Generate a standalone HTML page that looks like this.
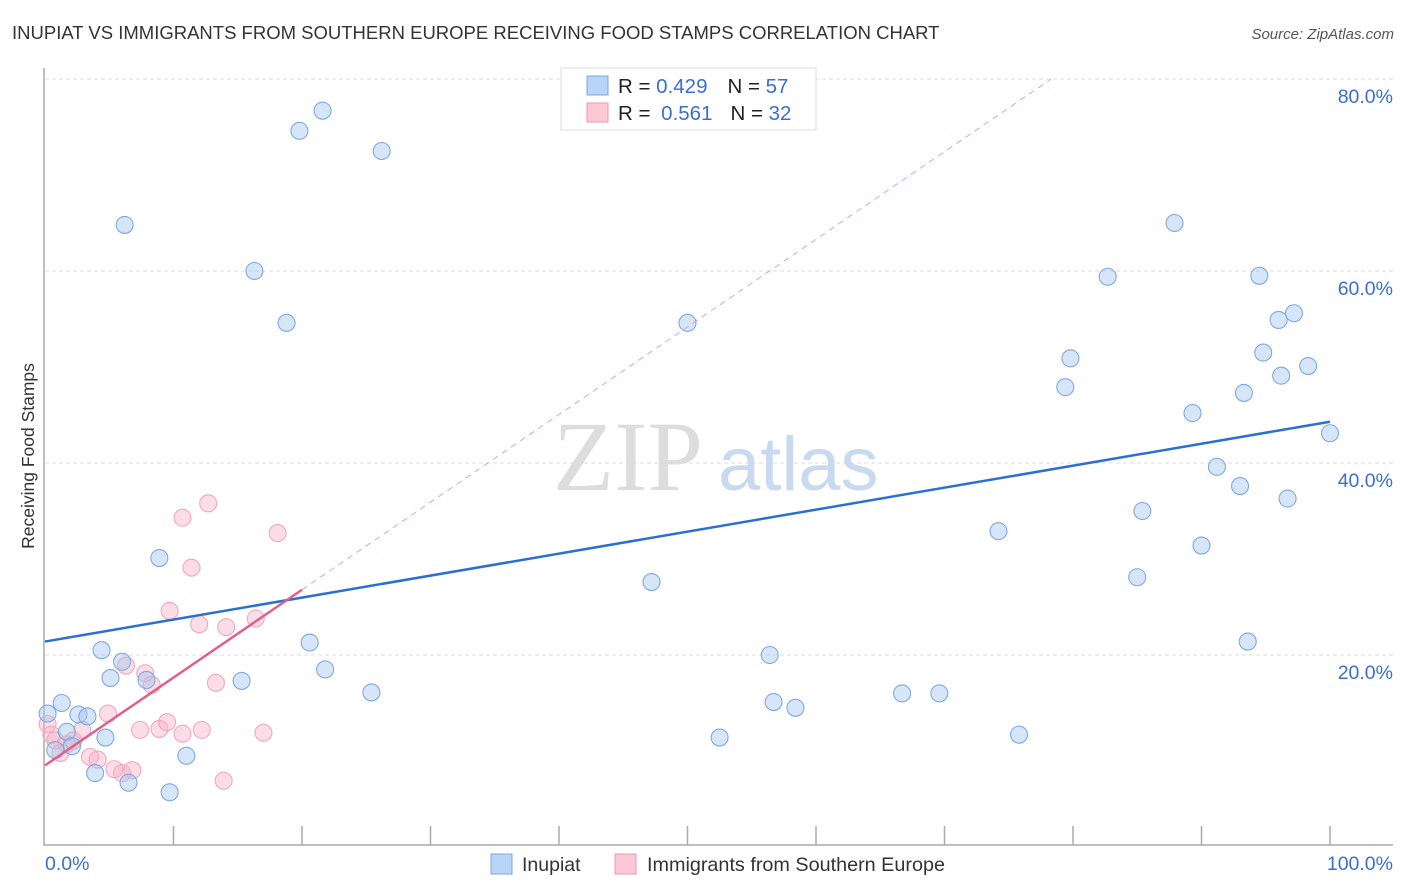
<!DOCTYPE html>
<html><head><meta charset="utf-8">
<style>
body{margin:0;background:#fff;font-family:"Liberation Sans",sans-serif;}
#wrap{position:relative;width:1406px;height:892px;overflow:hidden;}
</style></head>
<body>
<div id="wrap">
<svg id="svg" width="1406" height="892" xmlns="http://www.w3.org/2000/svg">
<text x="12" y="39" font-size="18.5" fill="#333">INUPIAT VS IMMIGRANTS FROM SOUTHERN EUROPE RECEIVING FOOD STAMPS CORRELATION CHART</text>
<text x="1394" y="39" font-size="15" fill="#555" font-style="italic" text-anchor="end">Source: ZipAtlas.com</text>
<text x="34" y="456" font-size="17.5" fill="#333" text-anchor="middle" transform="rotate(-90 34 456)">Receiving Food Stamps</text>
<g id="grid"></g>
<g id="axes"></g>
<text x="553" y="490" font-size="100" fill="#ddd" font-family="Liberation Serif,serif">ZIP</text>
<text x="718" y="490" font-size="76" fill="#c9daf0">atlas</text>
<g id="pts"></g>
<g id="trend"></g>
<g>
<rect x="561" y="68" width="255" height="62" fill="#fff" stroke="#ddd"/>
<rect x="587" y="76" width="21" height="19" fill="#b8d4f6" stroke="#7aa8e0"/>
<rect x="587" y="103" width="21" height="19" fill="#fcc8d6" stroke="#ee9ab3"/>
<text x="618" y="93" font-size="20.5" fill="#222">R = <tspan fill="#3a70cc">0.429</tspan><tspan dx="20">N = </tspan><tspan fill="#3a70cc">57</tspan></text>
<text x="618" y="120" font-size="20.5" fill="#222">R = <tspan fill="#3a70cc" dx="5">0.561</tspan><tspan dx="18">N = </tspan><tspan fill="#3a70cc">32</tspan></text>
</g>
<g>
<rect x="491" y="854" width="21" height="20" fill="#b8d4f6" stroke="#7aa8e0"/>
<text x="522" y="871" font-size="19.5" fill="#333">Inupiat</text>
<rect x="615" y="854" width="21" height="20" fill="#fcc8d6" stroke="#ee9ab3"/>
<text x="647" y="871" font-size="19.8" fill="#333">Immigrants from Southern Europe</text>
</g>
</svg>
</div>
<script>
const blueX=[0.2,0.8,1.3,1.7,2.1,2.6,3.3,3.9,4.4,4.7,5.1,6.0,6.2,6.5,7.9,8.9,9.7,11.0,15.3,16.3,18.8,19.8,20.6,21.6,21.8,25.4,26.2,47.2,50.0,52.5,56.4,56.7,58.4,66.7,69.6,74.2,75.8,79.4,79.8,82.7,85.0,85.4,87.9,89.3,90.0,91.2,93.0,93.3,93.6,94.5,94.8,96.0,96.2,96.7,97.2,98.3,100];
const blueY=[13.9,10.1,15.0,12.0,10.5,13.8,13.6,7.7,20.5,11.4,17.6,19.3,64.8,6.7,17.4,30.1,5.7,9.5,17.3,60.0,54.6,74.6,21.3,76.7,18.5,16.1,72.5,27.6,54.6,11.4,20.0,15.1,14.5,16.0,16.0,32.9,11.7,47.9,50.9,59.4,28.1,35.0,65.0,45.2,31.4,39.6,37.6,47.3,21.4,59.5,51.5,54.9,49.1,36.3,55.6,50.1,43.1];
const pinkX=[0.2,0.5,1.2,1.7,2.2,2.9,3.5,4.1,4.9,5.4,6.0,6.3,6.8,7.4,7.8,8.3,8.9,9.5,9.7,10.7,10.7,11.4,12.0,12.2,12.7,13.3,13.9,14.1,16.4,17.0,18.1,0.8];
const pinkY=[12.8,11.7,9.8,10.7,11.1,12.2,9.4,9.1,13.9,8.1,7.7,18.9,8.0,12.2,18.1,16.9,12.3,13.0,24.6,34.3,11.8,29.1,23.2,12.2,35.8,17.1,6.9,22.9,23.8,11.9,32.7,11.1];
const yTicks=[20,40,60,80];
const yTickLabels=["20.0%","40.0%","60.0%","80.0%"];
const xTicks=[0,10,20,30,40,50,60,70,80,90,100];
const xTickLabels=["0.0%","100.0%"];
const blueTrend=[[0,21.4],[100,44.3]];
const pinkTrend=[[0,8.5],[20,26.8]];
const pinkTrendExt=[[20,26.8],[78.3,80]];

const NS="http://www.w3.org/2000/svg";
const X=v=>45+v*12.85;
const Y=v=>847-v*9.6;
function mk(tag,attrs,parent){const e=document.createElementNS(NS,tag);for(const k in attrs)e.setAttribute(k,attrs[k]);parent.appendChild(e);return e;}
const grid=document.getElementById('grid'),axes=document.getElementById('axes'),pts=document.getElementById('pts'),trend=document.getElementById('trend');
yTicks.forEach((t,i)=>{
  const l=mk('line',{x1:45,x2:1393,y1:Y(t),y2:Y(t),stroke:'#ddd','stroke-dasharray':'4,3'},grid);
  
  
  const tx=mk('text',{x:1393,y:Y(t)+24,'font-size':19.5,fill:'#3a70cc','text-anchor':'end'},axes);
  tx.textContent=yTickLabels[i];
  
  
});
const ax=mk('path',{d:'M44,68 V845 H1393',fill:'none',stroke:'#aaa','stroke-width':1.5},axes);


xTicks.forEach(t=>{
  if(t===0)return;
  const l=mk('line',{x1:X(t),x2:X(t),y1:826,y2:845,stroke:'#aaa','stroke-width':1.5},axes);
  
  
});
const xl0=mk('text',{x:45,y:870,'font-size':19.5,fill:'#3a70cc'},axes);xl0.textContent=xTickLabels[0];


const xl1=mk('text',{x:1393,y:870,'font-size':19.5,fill:'#3a70cc','text-anchor':'end'},axes);xl1.textContent=xTickLabels[1];


pinkX.forEach((v,i)=>{
  const c=mk('circle',{cx:X(v),cy:Y(pinkY[i]),r:8.5,fill:'rgba(248,170,195,0.4)',stroke:'#f0a8be','stroke-width':1.1},pts);
  
  
});
blueX.forEach((v,i)=>{
  const c=mk('circle',{cx:X(v),cy:Y(blueY[i]),r:8.5,fill:'rgba(165,198,240,0.45)',stroke:'#7eaae2','stroke-width':1.1},pts);
  
  
});
function ln(p,st,dash,w,name){const l=mk('line',{x1:X(p[0][0]),y1:Y(p[0][1]),x2:X(p[1][0]),y2:Y(p[1][1]),stroke:st,'stroke-width':w},trend);if(dash)l.setAttribute('stroke-dasharray',dash);
  
  }
ln(pinkTrendExt,'#e8a0b8','6,5',1,'trend-southern-europe-extension');
ln(blueTrend,'#2a6fd4',null,2.5,'trend-inupiat');
ln(pinkTrend,'#e0608a',null,2.5,'trend-southern-europe');
</script>
</body></html>
